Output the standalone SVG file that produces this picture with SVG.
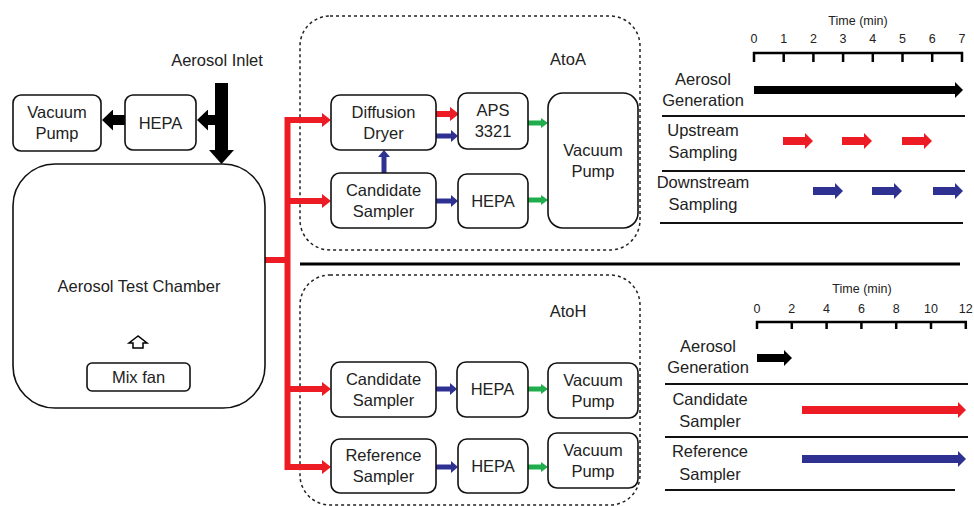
<svg xmlns="http://www.w3.org/2000/svg" width="974" height="506" viewBox="0 0 974 506">
<style>
text{font-family:"Liberation Sans",Arial,sans-serif;font-size:16.5px;fill:#222;text-anchor:middle}
.sm{font-size:12.5px}
.box{fill:#fff;stroke:#111;stroke-width:1.6}
.dash{fill:none;stroke:#222;stroke-width:1.5;stroke-dasharray:3 3}
.red{stroke:#ed1c24;fill:none}
.blue{stroke:#2e3192;fill:none}
.green{stroke:#1fae4b;fill:none}
.blk{stroke:#000;fill:none}
.rule{stroke:#111;stroke-width:2;fill:none}
</style>
<defs>
<marker id="mR" markerUnits="userSpaceOnUse" viewBox="0 -7 9 14" markerWidth="9" markerHeight="14" refX="0" refY="0" orient="auto"><path d="M0,-7L9,0L0,7z" fill="#ed1c24"/></marker>
<marker id="mB" markerUnits="userSpaceOnUse" viewBox="0 -6 7 12" markerWidth="7" markerHeight="12" refX="0" refY="0" orient="auto"><path d="M0,-6L7,0L0,6z" fill="#2e3192"/></marker>
<marker id="mG" markerUnits="userSpaceOnUse" viewBox="0 -5 7 10" markerWidth="7" markerHeight="10" refX="0" refY="0" orient="auto"><path d="M0,-5L7,0L0,5z" fill="#1fae4b"/></marker>
<marker id="mK1" markerUnits="userSpaceOnUse" viewBox="0 -12.5 14 25" markerWidth="14" markerHeight="25" refX="0" refY="0" orient="auto"><path d="M0,-12.5L14,0L0,12.5z" fill="#000"/></marker>
<marker id="mK2" markerUnits="userSpaceOnUse" viewBox="0 -10.5 11 21" markerWidth="11" markerHeight="21" refX="0" refY="0" orient="auto"><path d="M0,-10.5L11,0L0,10.5z" fill="#000"/></marker>
<marker id="tK" markerUnits="userSpaceOnUse" viewBox="0 -8 8 16" markerWidth="8" markerHeight="16" refX="0" refY="0" orient="auto"><path d="M0,-8L8,0L0,8z" fill="#000"/></marker>
<marker id="tR" markerUnits="userSpaceOnUse" viewBox="0 -8 8 16" markerWidth="8" markerHeight="16" refX="0" refY="0" orient="auto"><path d="M0,-8L8,0L0,8z" fill="#ed1c24"/></marker>
<marker id="tB" markerUnits="userSpaceOnUse" viewBox="0 -8 8 16" markerWidth="8" markerHeight="16" refX="0" refY="0" orient="auto"><path d="M0,-8L8,0L0,8z" fill="#2e3192"/></marker>
</defs>

<!-- containers -->
<rect x="300" y="16" width="340" height="234" rx="30" class="dash"/>
<rect x="300" y="275" width="340" height="230" rx="30" class="dash"/>
<line x1="300" y1="264" x2="960" y2="264" stroke="#000" stroke-width="3"/>
<text x="568" y="65">AtoA</text>
<text x="568" y="317">AtoH</text>
<text x="217" y="66">Aerosol Inlet</text>

<!-- connectors -->
<g id="connectors">
<line x1="221.5" y1="83" x2="221.5" y2="150" class="blk" stroke-width="13" marker-end="url(#mK1)"/>
<line x1="221" y1="120" x2="208" y2="120" class="blk" stroke-width="10" marker-end="url(#mK2)"/>
<line x1="125" y1="120" x2="113" y2="120" class="blk" stroke-width="10" marker-end="url(#mK2)"/>
<line x1="264" y1="260" x2="290" y2="260" class="red" stroke-width="6"/>
<line x1="287.5" y1="117" x2="287.5" y2="470" class="red" stroke-width="6"/>
<line x1="285" y1="120" x2="322" y2="120" class="red" stroke-width="6" marker-end="url(#mR)"/>
<line x1="285" y1="201" x2="322" y2="201" class="red" stroke-width="6" marker-end="url(#mR)"/>
<line x1="285" y1="389" x2="322" y2="389" class="red" stroke-width="6" marker-end="url(#mR)"/>
<line x1="285" y1="467" x2="322" y2="467" class="red" stroke-width="6" marker-end="url(#mR)"/>
<line x1="436" y1="114" x2="450" y2="114" class="red" stroke-width="6" marker-end="url(#mR)"/>
<line x1="436" y1="136" x2="451" y2="136" class="blue" stroke-width="5" marker-end="url(#mB)"/>
<line x1="384" y1="173" x2="384" y2="157" class="blue" stroke-width="5" marker-end="url(#mB)"/>
<line x1="436" y1="201" x2="451" y2="201" class="blue" stroke-width="5" marker-end="url(#mB)"/>
<line x1="528" y1="123" x2="541" y2="123" class="green" stroke-width="5" marker-end="url(#mG)"/>
<line x1="528" y1="200" x2="541" y2="200" class="green" stroke-width="5" marker-end="url(#mG)"/>
<line x1="436" y1="389" x2="450" y2="389" class="blue" stroke-width="5" marker-end="url(#mB)"/>
<line x1="436" y1="467" x2="451" y2="467" class="blue" stroke-width="5" marker-end="url(#mB)"/>
<line x1="528" y1="389" x2="541" y2="389" class="green" stroke-width="5" marker-end="url(#mG)"/>
<line x1="528" y1="467" x2="541" y2="467" class="green" stroke-width="5" marker-end="url(#mG)"/>
</g>

<!-- left nodes -->
<g id="vacuum-left"><rect x="13" y="95" width="88" height="56" rx="8" class="box"/><text x="57" y="118">Vacuum</text><text x="57" y="139">Pump</text></g>
<g id="hepa-left"><rect x="125" y="95" width="71" height="55" rx="8" class="box"/><text x="160.5" y="129">HEPA</text></g>
<g id="chamber"><rect x="13" y="164" width="252" height="244" rx="42" class="box"/><text x="139" y="292">Aerosol Test Chamber</text>
<path d="M138,336L129,343H133V348H143V343H147z" fill="#fff" stroke="#000" stroke-width="1.5"/></g>
<g id="mixfan"><rect x="87" y="363" width="103" height="28" rx="5" class="box"/><text x="138.5" y="383">Mix fan</text></g>

<!-- AtoA nodes -->
<g id="dryer"><rect x="331" y="95" width="105" height="55" rx="9" class="box"/><text x="383.5" y="118">Diffusion</text><text x="383.5" y="139">Dryer</text></g>
<g id="candA"><rect x="331" y="173" width="105" height="55" rx="9" class="box"/><text x="383.5" y="196">Candidate</text><text x="383.5" y="217">Sampler</text></g>
<g id="aps"><rect x="458" y="93" width="70" height="56" rx="9" class="box"/><text x="493" y="116">APS</text><text x="493" y="137">3321</text></g>
<g id="hepaA"><rect x="458" y="174" width="70" height="54" rx="9" class="box"/><text x="493" y="207">HEPA</text></g>
<g id="vacA"><rect x="548" y="93" width="90" height="135" rx="15" class="box"/><text x="593" y="156">Vacuum</text><text x="593" y="177">Pump</text></g>

<!-- AtoH nodes -->
<g id="candH"><rect x="331" y="362" width="105" height="55" rx="9" class="box"/><text x="383.5" y="385">Candidate</text><text x="383.5" y="406">Sampler</text></g>
<g id="hepaH1"><rect x="457" y="362" width="71" height="55" rx="9" class="box"/><text x="492.5" y="395">HEPA</text></g>
<g id="vacH1"><rect x="548" y="363" width="90" height="55" rx="9" class="box"/><text x="593" y="386">Vacuum</text><text x="593" y="407">Pump</text></g>
<g id="refH"><rect x="331" y="439" width="105" height="54" rx="9" class="box"/><text x="383.5" y="461">Reference</text><text x="383.5" y="482">Sampler</text></g>
<g id="hepaH2"><rect x="458" y="439" width="70" height="54" rx="9" class="box"/><text x="493" y="472">HEPA</text></g>
<g id="vacH2"><rect x="548" y="433" width="90" height="55" rx="9" class="box"/><text x="593" y="456">Vacuum</text><text x="593" y="477">Pump</text></g>

<!-- timeline A -->
<g id="timelineA">
<text x="858" y="25" class="sm">Time (min)</text>
<text x="754" y="43" class="sm">0</text><text x="783.7" y="43" class="sm">1</text><text x="813.4" y="43" class="sm">2</text><text x="843.1" y="43" class="sm">3</text><text x="872.8" y="43" class="sm">4</text><text x="902.5" y="43" class="sm">5</text><text x="932.2" y="43" class="sm">6</text><text x="962" y="43" class="sm">7</text>
<path d="M754,62V53H962V62M783.7,53V62M813.4,53V62M843.1,53V62M872.8,53V62M902.5,53V62M932.2,53V62" stroke="#000" stroke-width="2.5" fill="none"/>
<text x="703" y="85">Aerosol</text><text x="703" y="106">Generation</text>
<line x1="754" y1="90" x2="955" y2="90" stroke="#000" stroke-width="8" marker-end="url(#tK)"/>
<line x1="662" y1="116" x2="965" y2="116" class="rule"/>
<text x="703" y="136">Upstream</text><text x="703" y="158">Sampling</text>
<line x1="783" y1="141" x2="805" y2="141" stroke="#ed1c24" stroke-width="8" marker-end="url(#tR)"/>
<line x1="842" y1="141" x2="864" y2="141" stroke="#ed1c24" stroke-width="8" marker-end="url(#tR)"/>
<line x1="902" y1="141" x2="924" y2="141" stroke="#ed1c24" stroke-width="8" marker-end="url(#tR)"/>
<line x1="662" y1="171" x2="965" y2="171" class="rule"/>
<text x="703" y="188">Downstream</text><text x="703" y="210">Sampling</text>
<line x1="813" y1="191" x2="835" y2="191" stroke="#2e3192" stroke-width="8" marker-end="url(#tB)"/>
<line x1="872" y1="191" x2="894" y2="191" stroke="#2e3192" stroke-width="8" marker-end="url(#tB)"/>
<line x1="933" y1="191" x2="955" y2="191" stroke="#2e3192" stroke-width="8" marker-end="url(#tB)"/>
<line x1="660" y1="223" x2="963" y2="223" class="rule"/>
</g>

<!-- timeline H -->
<g id="timelineH">
<text x="862" y="293" class="sm">Time (min)</text>
<text x="757" y="313" class="sm">0</text><text x="791.8" y="313" class="sm">2</text><text x="826.6" y="313" class="sm">4</text><text x="861.4" y="313" class="sm">6</text><text x="896.2" y="313" class="sm">8</text><text x="931" y="313" class="sm">10</text><text x="965.8" y="313" class="sm">12</text>
<path d="M757,329V322H965.8V329M791.8,322V329M826.6,322V329M861.4,322V329M896.2,322V329M931,322V329" stroke="#000" stroke-width="2.5" fill="none"/>
<text x="708" y="352">Aerosol</text><text x="708" y="373">Generation</text>
<line x1="757" y1="358" x2="784" y2="358" stroke="#000" stroke-width="8" marker-end="url(#tK)"/>
<line x1="665" y1="384" x2="968" y2="384" class="rule"/>
<text x="710" y="405">Candidate</text><text x="710" y="427">Sampler</text>
<line x1="802" y1="410" x2="958" y2="410" stroke="#ed1c24" stroke-width="8" marker-end="url(#tR)"/>
<line x1="665" y1="437" x2="968" y2="437" class="rule"/>
<text x="710" y="457">Reference</text><text x="710" y="480">Sampler</text>
<line x1="802" y1="459" x2="958" y2="459" stroke="#2e3192" stroke-width="8" marker-end="url(#tB)"/>
<line x1="665" y1="490" x2="955" y2="490" class="rule"/>
</g>
</svg>
